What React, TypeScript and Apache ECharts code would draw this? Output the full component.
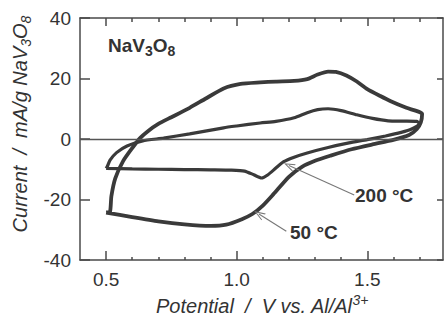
import React, { useEffect, useRef } from "react";
import * as echarts from "echarts";

// Cyclic voltammograms of NaV3O8: [potential (V), current (mA/g)]
const curve50C: [number, number][] = [
  // cathodic sweep
  [0.5, -24.3], [0.6, -25.8], [0.7, -27.2], [0.8, -28.2], [0.9, -28.7], [0.96, -28.3],
  [1.02, -26.5], [1.06, -24.8], [1.1, -22.0], [1.14, -18.3], [1.2, -12.5], [1.25, -9.2],
  [1.3, -7.2], [1.36, -5.5], [1.44, -3.4], [1.52, -1.8], [1.6, -0.3], [1.66, 1.3],
  [1.69, 3.3], [1.705, 5.5], [1.71, 8.3],
  // anodic sweep
  [1.65, 10.3], [1.59, 12.5], [1.55, 14.2], [1.5, 16.5], [1.46, 19.0], [1.42, 21.0],
  [1.38, 22.2], [1.35, 22.3], [1.31, 21.3], [1.27, 19.8], [1.22, 19.2], [1.15, 19.0],
  [1.09, 18.7], [1.015, 18.2], [0.95, 16.7], [0.88, 13.3], [0.82, 10.3], [0.75, 7.2],
  [0.7, 5.0], [0.66, 2.6], [0.63, 0.3], [0.6, -3.0], [0.565, -7.3], [0.535, -13.0],
  [0.52, -19.0], [0.515, -24.0], [0.5, -24.3],
];

const curve200C: [number, number][] = [
  // cathodic sweep
  [0.5, -9.7], [0.6, -9.9], [0.7, -10.0], [0.8, -10.1], [0.9, -10.2], [0.98, -10.3],
  [1.03, -10.6], [1.065, -11.8], [1.095, -12.9], [1.12, -11.8], [1.15, -9.6], [1.18, -7.5],
  [1.22, -6.0], [1.27, -4.6], [1.35, -2.8], [1.43, -1.3], [1.5, -0.2], [1.57, 1.0],
  [1.63, 2.2], [1.67, 3.3], [1.7, 5.0],
  // anodic sweep
  [1.69, 5.8], [1.64, 5.9], [1.58, 6.0], [1.52, 6.8], [1.46, 8.0], [1.4, 9.4], [1.35, 10.0],
  [1.31, 9.7], [1.27, 8.7], [1.22, 7.0], [1.15, 5.8], [1.09, 5.3], [1.0, 4.3], [0.95, 3.7],
  [0.82, 1.7], [0.72, 0.3], [0.64, -0.6], [0.58, -2.3], [0.54, -4.5], [0.515, -7.0],
  [0.505, -9.0], [0.5, -9.7],
];

// Axis ticks
const xMajorTicks = [0.5, 1.0, 1.5];
const xMinorTicks = [0.6, 0.7, 0.8, 0.9, 1.1, 1.2, 1.3, 1.4, 1.6, 1.7];
const yTickInterval = 20;

// Callout arrows: [label end, curve end]
const arrow200C: [number, number][] = [[1.45, -18.5], [1.2, -8.8]];
const arrow50C: [number, number][] = [[1.19, -30.5], [1.085, -24.8]];

const INK = "#3a3a3a";
const FRAME = "#4a4a4a";
const FONT = "Liberation Sans";
const ARROW_HEAD = "path://M5,0 L10,12 L8.6,12 L5,3.2 L1.4,12 L0,12 Z";

const xRange = { min: 0.4, max: 1.79 };

function tickAxis(position: "top" | "bottom", values: number[], length: number, showLine: boolean, labels: boolean) {
  return {
    type: "value" as const,
    position,
    ...xRange,
    axisLine: { show: showLine, onZero: false, lineStyle: { color: FRAME, width: 1.5 } },
    axisTick: { show: true, inside: true, length, customValues: values, lineStyle: { color: FRAME, width: 1.5 } },
    axisLabel: labels
      ? {
          show: true,
          customValues: values,
          formatter: (v: number) => v.toFixed(1),
          fontFamily: FONT,
          fontSize: 19,
          color: "#333",
          margin: 10,
        }
      : { show: false },
    splitLine: { show: false },
  };
}

export default function App() {
  const ref = useRef<HTMLDivElement>(null);

  useEffect(() => {
    if (!ref.current) return;
    const chart = echarts.init(ref.current, undefined, { renderer: "svg" });

    const arrowLine = (pts: [number, number][]) => [
      { coord: pts[0], symbol: "none" },
      { coord: pts[1], symbol: ARROW_HEAD, symbolSize: [8, 11] },
    ];

    chart.setOption({
      animation: false,
      backgroundColor: "#ffffff",
      grid: { left: 80, top: 18, right: 1, bottom: 61, containLabel: false },
      xAxis: [
        tickAxis("bottom", xMajorTicks, 9, true, true),
        tickAxis("bottom", xMinorTicks, 3, false, false),
        tickAxis("top", xMajorTicks, 8, true, false),
        tickAxis("top", xMinorTicks, 4, false, false),
      ],
      yAxis: [
        {
          type: "value",
          position: "left",
          min: -40,
          max: 40,
          interval: yTickInterval,
          axisLine: { show: true, onZero: false, lineStyle: { color: FRAME, width: 1.5 } },
          axisTick: { show: true, inside: true, length: 10, lineStyle: { color: FRAME, width: 1.5 } },
          axisLabel: { fontFamily: FONT, fontSize: 19, color: "#333", margin: 9 },
          splitLine: { show: false },
        },
        {
          type: "value",
          position: "right",
          min: -40,
          max: 40,
          interval: yTickInterval,
          axisLine: { show: true, onZero: false, lineStyle: { color: FRAME, width: 1.5 } },
          axisTick: { show: true, inside: true, length: 6, lineStyle: { color: FRAME, width: 1.5 } },
          axisLabel: { show: false },
          splitLine: { show: false },
        },
      ],
      series: [
        {
          name: "200 °C",
          type: "line",
          data: curve200C,
          symbol: "none",
          smooth: 0.2,
          lineStyle: { color: INK, width: 3.2 },
          markLine: {
            silent: true,
            symbol: "none",
            label: { show: false },
            lineStyle: { color: "#555", width: 1.3, type: "solid" },
            data: [{ yAxis: 0 }],
          },
        },
        {
          name: "50 °C",
          type: "line",
          data: curve50C,
          symbol: "none",
          smooth: 0.2,
          lineStyle: { color: INK, width: 3.8 },
          markLine: {
            silent: true,
            label: { show: false },
            lineStyle: { color: "#777", width: 1.1, type: "solid" },
            data: [arrowLine(arrow200C), arrowLine(arrow50C)],
          },
        },
      ],
      graphic: [
        {
          type: "text",
          left: 108,
          top: 36,
          style: {
            text: "{b|NaV}{s|3}{b|O}{s|8}",
            rich: {
              b: { fontFamily: FONT, fontWeight: "bold", fontSize: 19, lineHeight: 24, fill: "#333" },
              s: { fontFamily: FONT, fontWeight: "bold", fontSize: 14, lineHeight: 5, verticalAlign: "bottom", fill: "#333" },
            },
          },
        },
        {
          type: "text",
          x: 355,
          y: 195,
          style: {
            text: "200 °C",
            fontFamily: FONT,
            fontWeight: "bold",
            fontSize: 19,
            fill: "#333",
            verticalAlign: "middle",
          },
        },
        {
          type: "text",
          x: 290,
          y: 232,
          style: {
            text: "50 °C",
            fontFamily: FONT,
            fontWeight: "bold",
            fontSize: 19,
            fill: "#333",
            verticalAlign: "middle",
          },
        },
        {
          type: "text",
          x: 262,
          y: 306,
          style: {
            text: "{t|Potential  /  V vs. Al/Al}{p|3+}",
            align: "center",
            verticalAlign: "middle",
            rich: {
              t: { fontFamily: FONT, fontStyle: "italic", fontSize: 20, lineHeight: 26, fill: "#333" },
              p: { fontFamily: FONT, fontStyle: "italic", fontSize: 14, lineHeight: 8, verticalAlign: "top", fill: "#333" },
            },
          },
        },
        {
          type: "text",
          x: 20,
          y: 124,
          rotation: Math.PI / 2,
          style: {
            text: "{t|Current  /  mA/g NaV}{s|3}{t|O}{s|8}",
            align: "center",
            verticalAlign: "middle",
            rich: {
              t: { fontFamily: FONT, fontStyle: "italic", fontSize: 20, lineHeight: 26, fill: "#333" },
              s: { fontFamily: FONT, fontStyle: "italic", fontSize: 14, lineHeight: 6, verticalAlign: "bottom", fill: "#333" },
            },
          },
        },
      ],
    });

    return () => chart.dispose();
  }, []);

  return (
    <div
      ref={ref}
      style={{ position: "fixed", left: 0, top: 0, width: 444, height: 321, background: "#fff" }}
    />
  );
}
